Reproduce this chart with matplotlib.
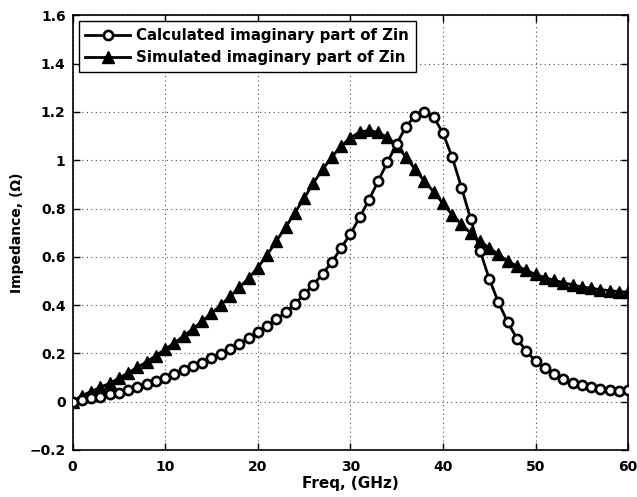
import matplotlib
matplotlib.use("Agg")
import matplotlib.pyplot as plt
import numpy as np

freq = list(range(0, 61))
calculated = [0.000, 0.008, 0.015, 0.021, 0.030, 0.038, 0.049, 0.060, 0.072, 0.084,
              0.099, 0.113, 0.131, 0.146, 0.162, 0.180, 0.199, 0.218, 0.240, 0.263,
              0.288, 0.314, 0.341, 0.370, 0.404, 0.445, 0.484, 0.530, 0.578, 0.637,
              0.694, 0.763, 0.835, 0.913, 0.992, 1.067, 1.139, 1.184, 1.201, 1.180,
              1.112, 1.013, 0.887, 0.756, 0.626, 0.509, 0.411, 0.329, 0.261, 0.210,
              0.168, 0.138, 0.113, 0.094, 0.079, 0.068, 0.060, 0.054, 0.049, 0.046,
              0.048]
simulated = [0.000, 0.025, 0.042, 0.060, 0.076, 0.097, 0.120, 0.142, 0.165, 0.191,
             0.217, 0.244, 0.272, 0.302, 0.333, 0.366, 0.400, 0.436, 0.473, 0.511,
             0.555, 0.607, 0.665, 0.722, 0.782, 0.842, 0.905, 0.962, 1.013, 1.058,
             1.093, 1.116, 1.124, 1.115, 1.095, 1.061, 1.013, 0.962, 0.913, 0.869,
             0.821, 0.774, 0.735, 0.698, 0.664, 0.637, 0.610, 0.582, 0.562, 0.544,
             0.527, 0.514, 0.503, 0.493, 0.484, 0.475, 0.470, 0.464, 0.460, 0.456,
             0.454]
xticks = [0, 10, 20, 30, 40, 50, 60]
yticks = [-0.2, 0, 0.2, 0.4, 0.6, 0.8, 1, 1.2, 1.4, 1.6]
ytick_labels = ["\u22120.2", "0", "0.2", "0.4", "0.6", "0.8", "1", "1.2", "1.4", "1.6"]

plt.rcParams['font.family'] = ['DejaVu Sans']
plt.rcParams['font.weight'] = 'bold'

fig = plt.figure(figsize=(6.37, 4.97), dpi=100)
ax = fig.add_axes([0.114, 0.0946, 0.872, 0.8745])

ax.plot(freq, calculated, color='black', lw=2, marker='o', markersize=6.6,
        markerfacecolor='white', markeredgecolor='black', markeredgewidth=1.9,
        label='Calculated imaginary part of Zin', zorder=3)
ax.plot(freq, simulated, color='black', lw=2, marker='^', markersize=8.3,
        markerfacecolor='black', markeredgecolor='black',
        label='Simulated imaginary part of Zin', zorder=2)

ax.set_xlim(0, 60)
ax.set_ylim(-0.2, 1.6)
ax.set_xticks(xticks)
ax.set_xticklabels([str(t) for t in xticks], fontsize=10, fontweight='bold')
ax.set_yticks(yticks)
ax.set_yticklabels(ytick_labels, fontsize=10, fontweight='bold')
ax.tick_params(direction='in', length=5, width=1, top=True, right=True)
ax.tick_params(axis='x', pad=7)
ax.tick_params(axis='y', pad=5)
ax.grid(True, linestyle=(0, (1, 3)), color='black', linewidth=0.8, alpha=0.7)
for s in ax.spines.values():
    s.set_linewidth(1.2)

ax.set_xlabel('Freq, (GHz)', fontsize=11, fontweight='bold', labelpad=2)
ax.set_ylabel('Impedance, (\u03a9)', fontsize=10, fontweight='bold', labelpad=4)

leg = ax.legend(loc='upper left', fontsize=10.8, handlelength=3.0, frameon=True,
                fancybox=False, edgecolor='black', framealpha=1,
                borderaxespad=0.4, borderpad=0.45, labelspacing=0.45, handletextpad=0.4)
leg.get_frame().set_linewidth(1.0)
for t in leg.get_texts():
    t.set_fontweight('bold')

fig.savefig('out.png', dpi=100)
